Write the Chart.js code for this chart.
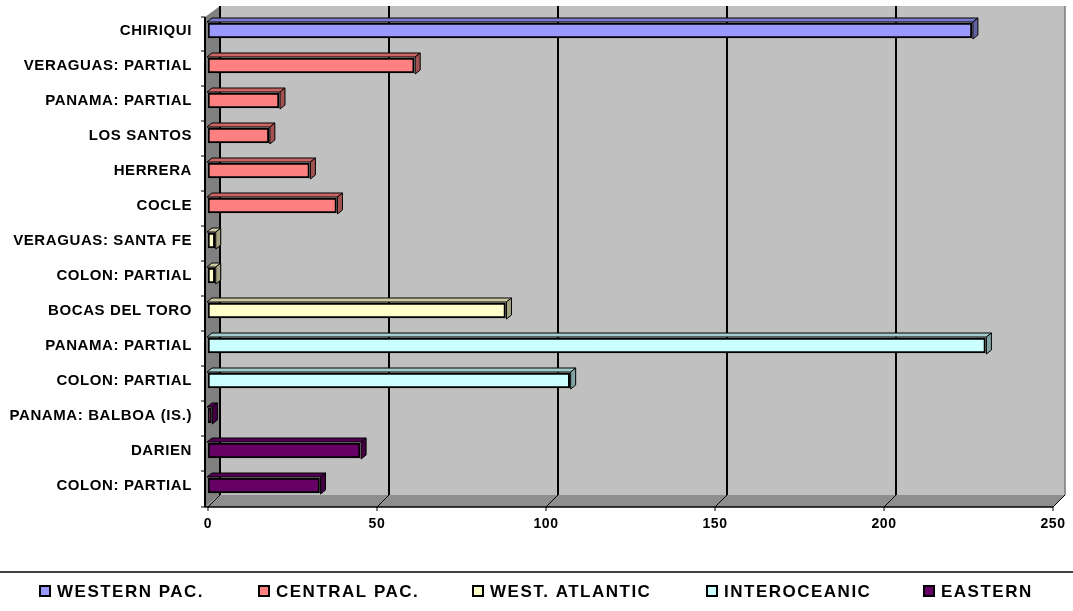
<!DOCTYPE html>
<html>
<head>
<meta charset="utf-8">
<script src="https://cdn.jsdelivr.net/npm/chart.js@4/dist/chart.umd.min.js"></script>
<style>
  html, body { margin: 0; padding: 0; background: #fff; }
  #wrap { width: 1073px; height: 611px; }
</style>
</head>
<body>
<div id="wrap"><canvas id="regionsChart" width="1073" height="611"></canvas></div>
<script>
const categories = [
    'CHIRIQUI',
    'VERAGUAS: PARTIAL',
    'PANAMA: PARTIAL',
    'LOS SANTOS',
    'HERRERA',
    'COCLE',
    'VERAGUAS: SANTA FE',
    'COLON: PARTIAL',
    'BOCAS DEL TORO',
    'PANAMA: PARTIAL',
    'COLON: PARTIAL',
    'PANAMA: BALBOA (IS.)',
    'DARIEN',
    'COLON: PARTIAL'
];
const values = [226, 61, 21, 18, 30, 38, 2, 2, 88, 230, 107, 1, 45, 33];
// which region each category belongs to (index into regions)
const regionOf = [0, 1, 1, 1, 1, 1, 2, 2, 2, 3, 3, 4, 4, 4];
const regions = ['WESTERN PAC.', 'CENTRAL PAC.', 'WEST. ATLANTIC', 'INTEROCEANIC', 'EASTERN'];
const regionColors = ['#9999ff', '#ff8080', '#ffffcc', '#ccffff', '#660066'];
const xTicks = [0, 50, 100, 150, 200, 250];

function shade(hex, f) {
    const n = parseInt(hex.slice(1), 16);
    const r = Math.round(((n >> 16) & 255) * f);
    const g = Math.round(((n >> 8) & 255) * f);
    const b = Math.round((n & 255) * f);
    return `rgb(${r}, ${g}, ${b})`;
}

const DEPTH = 12;      // wall depth
const BAR_DX = 5;      // bar depth
const BAR_DY = 4;

const wallsPlugin = {
    id: 'walls3d',
    beforeDraw(chart) {
        chart.ctx.letterSpacing = '0.6px';
    },
    beforeDatasetsDraw(chart) {
        const ctx = chart.ctx;
        const ca = chart.chartArea;
        const xs = chart.scales.x;
        const ys = chart.scales.y;
        const x0 = xs.getPixelForValue(0);
        const x1 = xs.getPixelForValue(250);
        const frontY = ca.bottom + 4;
        const backY = frontY - DEPTH;
        const topY = Math.max(ca.top - 7, 6);
        const leftX = x0 - 3;

        ctx.save();
        // back wall
        ctx.fillStyle = '#c0c0c0';
        ctx.fillRect(leftX + 15, topY, x1 + DEPTH - (leftX + 15), backY - topY);
        // left wall
        ctx.fillStyle = '#808080';
        ctx.beginPath();
        ctx.moveTo(leftX, topY + 11);
        ctx.lineTo(leftX + 15, topY);
        ctx.lineTo(leftX + 15, backY);
        ctx.lineTo(leftX, frontY);
        ctx.closePath();
        ctx.fill();
        // floor
        ctx.fillStyle = '#8e8e8e';
        ctx.beginPath();
        ctx.moveTo(leftX, frontY);
        ctx.lineTo(leftX + 15, backY);
        ctx.lineTo(x1 + DEPTH, backY);
        ctx.lineTo(x1, frontY);
        ctx.closePath();
        ctx.fill();

        // grid lines on the back wall
        xTicks.forEach(v => {
            const px = xs.getPixelForValue(v) + DEPTH;
            ctx.strokeStyle = v === 250 ? '#7a7a7a' : '#000';
            ctx.lineWidth = v === 250 ? 1.5 : 2;
            ctx.beginPath();
            ctx.moveTo(px, topY);
            ctx.lineTo(px, backY);
            ctx.stroke();
            // slanted tick on the floor
            ctx.strokeStyle = '#000';
            ctx.lineWidth = 1;
            ctx.beginPath();
            ctx.moveTo(px - DEPTH, frontY);
            ctx.lineTo(px, backY);
            ctx.stroke();
            // small tick below the axis
            ctx.beginPath();
            ctx.moveTo(px - DEPTH, frontY);
            ctx.lineTo(px - DEPTH, frontY + 4);
            ctx.stroke();
        });

        // front axis lines
        ctx.strokeStyle = '#000';
        ctx.lineWidth = 1.5;
        ctx.beginPath();
        ctx.moveTo(leftX, frontY);
        ctx.lineTo(x1, frontY);
        ctx.stroke();
        ctx.lineWidth = 2;
        ctx.beginPath();
        ctx.moveTo(leftX, topY + 11);
        ctx.lineTo(leftX, frontY);
        ctx.stroke();

        // category ticks on the left wall edge
        ctx.lineWidth = 1;
        for (let i = 0; i <= categories.length; i++) {
            const py = i === categories.length
                ? frontY
                : ys.getPixelForValue(i) - (ys.getPixelForValue(1) - ys.getPixelForValue(0)) / 2 + 3;
            ctx.beginPath();
            ctx.moveTo(leftX - 4, Math.max(py, topY + 11));
            ctx.lineTo(leftX, Math.max(py, topY + 11));
            ctx.stroke();
        }
        ctx.restore();
    },
    afterDatasetsDraw(chart) {
        const ctx = chart.ctx;
        ctx.save();
        chart.data.datasets.forEach((ds, di) => {
            const meta = chart.getDatasetMeta(di);
            const base = regionColors[di];
            meta.data.forEach((el, j) => {
                if (ds.data[j] === null) return;
                const p = el.getProps(['x', 'y', 'base', 'height'], true);
                const l = Math.min(p.base, p.x) - 1;
                const r = Math.max(p.base, p.x) + 1;
                const t = p.y - p.height / 2 - 1;
                const b = p.y + p.height / 2 + 1;
                ctx.lineWidth = 1;
                ctx.strokeStyle = '#000';
                // top face
                ctx.fillStyle = shade(base, 0.8);
                ctx.beginPath();
                ctx.moveTo(l, t);
                ctx.lineTo(l + BAR_DX, t - BAR_DY);
                ctx.lineTo(r + BAR_DX, t - BAR_DY);
                ctx.lineTo(r, t);
                ctx.closePath();
                ctx.fill();
                ctx.stroke();
                // right face
                ctx.fillStyle = shade(base, 0.64);
                ctx.beginPath();
                ctx.moveTo(r, t);
                ctx.lineTo(r + BAR_DX, t - BAR_DY);
                ctx.lineTo(r + BAR_DX, b - BAR_DY);
                ctx.lineTo(r, b);
                ctx.closePath();
                ctx.fill();
                ctx.stroke();
            });
        });
        ctx.restore();
    },
    afterDraw(chart) {
        // legend at the bottom
        const ctx = chart.ctx;
        const legendX = [40, 259, 473, 707, 924];
        ctx.save();
        ctx.strokeStyle = '#000';
        ctx.lineWidth = 1.5;
        ctx.beginPath();
        ctx.moveTo(0, 572);
        ctx.lineTo(chart.width, 572);
        ctx.stroke();
        ctx.letterSpacing = '1.5px';
        ctx.font = 'bold 17px "Liberation Sans", Arial, sans-serif';
        ctx.textBaseline = 'middle';
        ctx.textAlign = 'left';
        regions.forEach((name, i) => {
            const x = legendX[i];
            ctx.fillStyle = regionColors[i];
            ctx.fillRect(x, 586, 10, 10);
            ctx.lineWidth = 2;
            ctx.strokeRect(x, 586, 10, 10);
            ctx.fillStyle = '#000';
            ctx.fillText(name, x + 17, 592);
        });
        ctx.restore();
    }
};

const ctx = document.getElementById('regionsChart').getContext('2d');
const regionsChart = new Chart(ctx, {
    type: 'bar',
    data: {
        labels: categories,
        datasets: regions.map((name, i) => ({
            label: name,
            data: values.map((v, j) => regionOf[j] === i ? v : null),
            backgroundColor: regionColors[i],
            borderColor: '#000',
            borderWidth: 2,
            borderSkipped: false,
            barThickness: 15,
            grouped: false
        }))
    },
    options: {
        indexAxis: 'y',
        responsive: false,
        animation: false,
        layout: {
            padding: { top: 13, right: 20, left: 0, bottom: 0 }
        },
        scales: {
            x: {
                min: 0,
                max: 250,
                grid: { display: false },
                border: { display: false },
                afterBuildTicks: scale => {
                    scale.ticks = xTicks.map(v => ({ value: v }));
                },
                afterFit: scale => {
                    scale.height = 108;
                    scale.paddingLeft = 0;
                    scale.paddingRight = 0;
                },
                ticks: {
                    padding: 5,
                    color: '#000',
                    maxRotation: 0,
                    font: { family: '"Liberation Sans", Arial, sans-serif', size: 14, weight: 'bold' }
                }
            },
            y: {
                grid: { display: false },
                border: { display: false },
                afterFit: scale => {
                    scale.width = 208;
                    scale.paddingTop = 0;
                    scale.paddingBottom = 0;
                },
                ticks: {
                    padding: 8,
                    autoSkip: false,
                    color: '#000',
                    font: { family: '"Liberation Sans", Arial, sans-serif', size: 15, weight: 'bold' }
                }
            }
        },
        plugins: {
            legend: { display: false },
            tooltip: { enabled: false }
        }
    },
    plugins: [wallsPlugin]
});
</script>
</body>
</html>
